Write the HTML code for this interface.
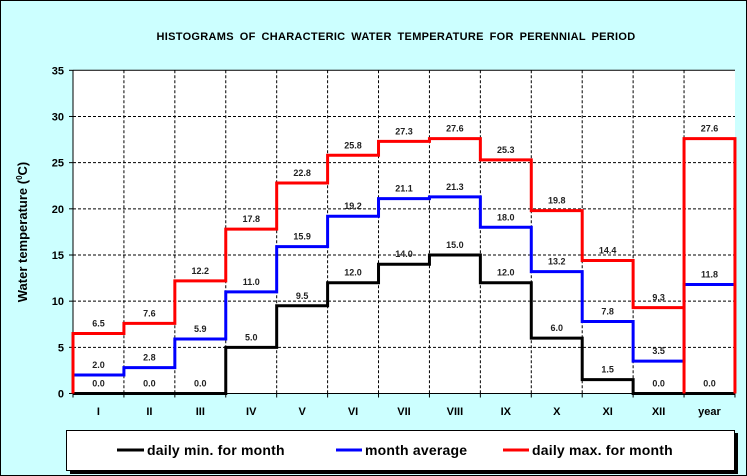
<!DOCTYPE html>
<html><head><style>
body{margin:0;background:#fff}
svg{display:block;font-family:"Liberation Sans",Arial,sans-serif}
</style></head><body>
<svg id="s" width="747" height="476" xmlns="http://www.w3.org/2000/svg">
<rect x="0.5" y="0.5" width="746" height="475" fill="#CCFFFF" stroke="#000"/>
<text x="396" y="40" text-anchor="middle" font-size="11" font-weight="bold" letter-spacing="0.3" word-spacing="2.5">HISTOGRAMS OF CHARACTERIC WATER TEMPERATURE FOR PERENNIAL PERIOD</text>
<rect x="73" y="70.3" width="662" height="323.2" fill="#fff"/>
<g id="g"></g>
<rect x="70" y="433" width="668" height="41" fill="#000"/>
<rect x="66.5" y="430.5" width="668" height="40" fill="#fff" stroke="#000"/>
<line x1="117" y1="450" x2="144" y2="450" stroke="#000" stroke-width="3"/>
<text x="147" y="455" font-size="14" font-weight="bold" letter-spacing="0.2">daily min. for month</text>
<line x1="336" y1="450" x2="362" y2="450" stroke="#00f" stroke-width="3"/>
<text x="365" y="455" font-size="14" font-weight="bold" letter-spacing="0.2">month average</text>
<line x1="503" y1="450" x2="529" y2="450" stroke="#f00" stroke-width="3"/>
<text x="532" y="455" font-size="14" font-weight="bold" letter-spacing="0.2">daily max. for month</text>
<text transform="translate(27,232) rotate(-90)" text-anchor="middle" font-size="13" font-weight="bold">Water temperature (<tspan font-size="8" dy="-5">0</tspan><tspan dy="5">C)</tspan></text>
</svg>
<script>
var g=document.getElementById('g'),NS='http://www.w3.org/2000/svg';
var L=73,W=50.92,Y0=393.5,K=9.234;
function X(i){return L+i*W} function Y(v){return Y0-v*K}
function el(t,a,txt){var e=document.createElementNS(NS,t);for(var k in a)e.setAttribute(k,a[k]);if(txt!==undefined)e.textContent=txt;g.appendChild(e);return e}
for(var v=5;v<=30;v+=5)el('line',{x1:L,x2:735,y1:Y(v),y2:Y(v),stroke:'#000','stroke-dasharray':'3,2','stroke-width':1});
for(var i=1;i<13;i++)el('line',{x1:X(i),x2:X(i),y1:70.3,y2:Y0,stroke:'#000','stroke-dasharray':'3,2','stroke-width':1});
el('line',{x1:L,x2:735,y1:70.3,y2:70.3,stroke:'#000'});
el('line',{x1:L,x2:L,y1:70.3,y2:Y0+4,stroke:'#000'});
el('line',{x1:L-4,x2:735,y1:Y0,y2:Y0,stroke:'#000'});
for(var v=0;v<=35;v+=5){el('line',{x1:L-4,x2:L,y1:Y(v),y2:Y(v),stroke:'#000'});el('text',{x:L-9,y:Y(v)+4,'text-anchor':'end','font-size':11,'font-weight':'bold'},v);}
var mon=['I','II','III','IV','V','VI','VII','VIII','IX','X','XI','XII','year'];
for(var i=0;i<13;i++){el('line',{x1:X(i+1),x2:X(i+1),y1:Y0,y2:Y0+4,stroke:'#000'});el('text',{x:X(i)+W/2,y:415,'text-anchor':'middle','font-size':11,'font-weight':'bold'},mon[i]);}
var mn=[0,0,0,5,9.5,12,14,15,12,6,1.5,0,0],av=[2,2.8,5.9,11,15.9,19.2,21.1,21.3,18,13.2,7.8,3.5,11.8],mx=[6.5,7.6,12.2,17.8,22.8,25.8,27.3,27.6,25.3,19.8,14.4,9.3,27.6];
function step(d,c){var p='M'+X(0)+','+Y(d[0]);
 for(var i=0;i<13;i++){p+=' L'+X(i)+','+Y(d[i])+' L'+X(i+1)+','+Y(d[i]);}
 el('path',{d:p,fill:'none',stroke:c,'stroke-width':3});}
step(mn,'#000');step(av,'#00f');
var p='M'+X(0)+','+Y0+' L'+X(0)+','+Y(mx[0]);
for(var i=0;i<12;i++){p+=' L'+X(i)+','+Y(mx[i])+' L'+X(i+1)+','+Y(mx[i]);}
p+=' L'+X(12)+','+Y0+' M'+X(12)+','+Y0+' L'+X(12)+','+Y(27.6)+' L'+X(13)+','+Y(27.6)+' L'+X(13)+','+Y0;
el('path',{d:p,fill:'none',stroke:'#f00','stroke-width':3});
function lab(d){for(var i=0;i<13;i++)el('text',{x:X(i)+W/2,y:Y(d[i])-7,'text-anchor':'middle','font-size':9,'font-weight':'bold',fill:'#222'},d[i].toFixed(1));}
lab(mn);lab(av);lab(mx);
</script>
</body></html>
